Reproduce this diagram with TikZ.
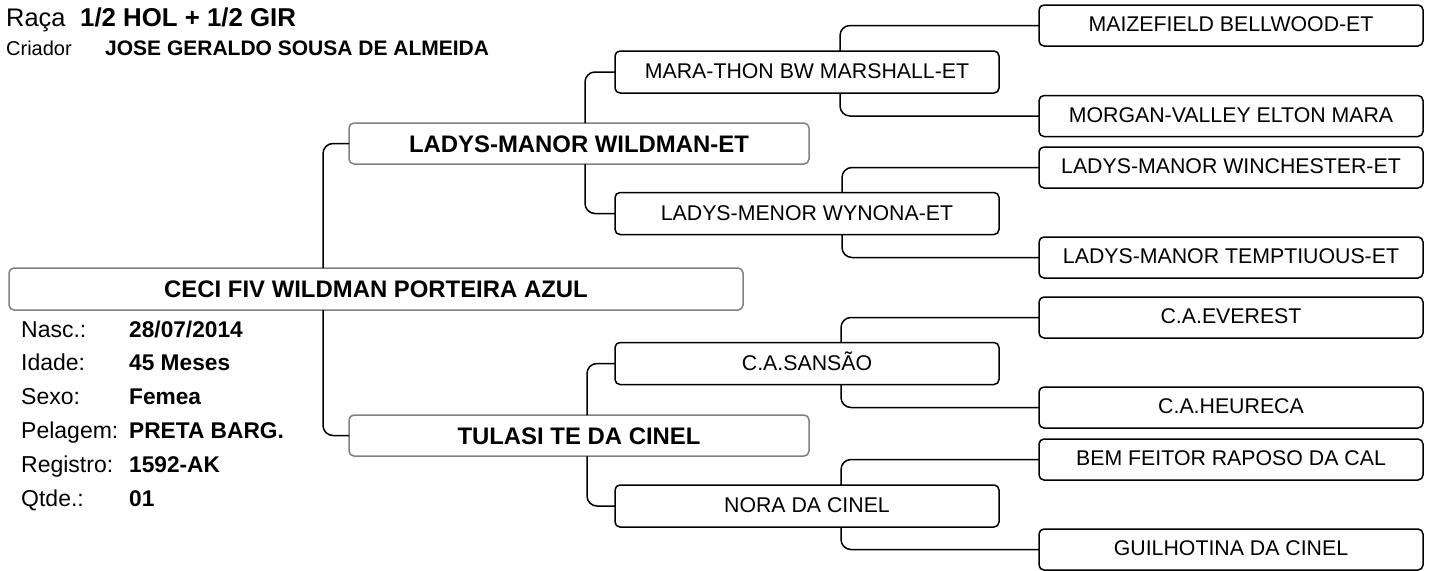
\documentclass[tikz,border=0pt]{standalone}
\usepackage{fontspec}
\setmainfont{Liberation Sans}
\usetikzlibrary{calc}
\definecolor{boxgray}{RGB}{128,128,128}
\tikzset{
  box/.style={draw=black, line width=1.5pt, rounded corners=5pt, minimum height=41pt,
    inner sep=0pt, outer sep=0pt, fill=white},
  gmain/.style={box, draw=boxgray, minimum width=734pt, minimum height=42pt,
    font=\bfseries\fontsize{23.9}{26}\selectfont, text height=17.2pt, text depth=0pt},
  gone/.style={box, draw=boxgray, minimum width=460pt,
    font=\bfseries\fontsize{23.9}{26}\selectfont, text height=17.2pt, text depth=0pt},
  gtwo/.style={box, minimum width=384pt, minimum height=42pt,
    font=\fontsize{21.3}{24}\selectfont, text height=15.4pt, text depth=2pt},
  gthree/.style={box, minimum width=384pt,
    font=\fontsize{21.3}{24}\selectfont, text height=15.4pt, text depth=3pt},
  conn/.style={line width=1.5pt, rounded corners=10pt},
  lbl/.style={anchor=base west, inner sep=0pt, font=\fontsize{23}{26}\selectfont},
  val/.style={anchor=base west, inner sep=0pt, font=\bfseries\fontsize{22.7}{26}\selectfont},
}
\begin{document}
\begin{tikzpicture}[x=1pt, y=-1pt]
\useasboundingbox (0,0) rectangle (1431,570);
% boxes
\node[gmain] (main) at (376,289) {CECI FIV WILDMAN PORTEIRA AZUL};
\node[gone] (ladys) at (579,143.5) {LADYS-MANOR WILDMAN-ET};
\node[gone] (tulasi) at (579,435.5) {TULASI TE DA CINEL};
\node[gtwo] (mara) at (807,72) {MARA-THON BW MARSHALL-ET};
\node[gtwo] (wynona) at (807,213.5) {LADYS-MENOR WYNONA-ET};
\node[gtwo] (sansao) at (807,363.5) {C.A.SANSÃO};
\node[gtwo] (nora) at (807,506) {NORA DA CINEL};
\node[gthree] (maize) at (1231,25.5) {MAIZEFIELD BELLWOOD-ET};
\node[gthree] (morgan) at (1231,116) {MORGAN-VALLEY ELTON MARA};
\node[gthree] (winch) at (1231,167.5) {LADYS-MANOR WINCHESTER-ET};
\node[gthree] (tempt) at (1231,257.5) {LADYS-MANOR TEMPTIUOUS-ET};
\node[gthree] (everest) at (1231,317.5) {C.A.EVEREST};
\node[gthree] (heureca) at (1231,407.5) {C.A.HEURECA};
\node[gthree] (bem) at (1231,459.5) {BEM FEITOR RAPOSO DA CAL};
\node[gthree] (guil) at (1231,549.5) {GUILHOTINA DA CINEL};
% connectors
\draw[conn] (main.north -| ladys.west) ++(-26,0) |- (ladys.west);
\draw[conn] (main.south -| tulasi.west) ++(-26,0) |- (tulasi.west);
\draw[conn] (ladys.north -| mara.west) ++(-30,0) |- (mara.west);
\draw[conn] (ladys.south -| wynona.west) ++(-30,0) |- (wynona.west);
\draw[conn] (tulasi.north -| sansao.west) ++(-28,0) |- (sansao.west);
\draw[conn] (tulasi.south -| nora.west) ++(-28,0) |- (nora.west);
\draw[conn] (mara.north -| maize.west) ++(-199,0) |- (maize.west);
\draw[conn] (mara.south -| morgan.west) ++(-199,0) |- (morgan.west);
\draw[conn] (wynona.north -| winch.west) ++(-197,0) |- (winch.west);
\draw[conn] (wynona.south -| tempt.west) ++(-197,0) |- (tempt.west);
\draw[conn] (sansao.north -| everest.west) ++(-198,0) |- (everest.west);
\draw[conn] (sansao.south -| heureca.west) ++(-198,0) |- (heureca.west);
\draw[conn] (nora.north -| bem.west) ++(-198,0) |- (bem.west);
\draw[conn] (nora.south -| guil.west) ++(-198,0) |- (guil.west);
% header
\node[anchor=base west, inner sep=0pt, font=\fontsize{25.4}{28}\selectfont] (raca) at (6,26.7) {Raça};
\node[anchor=base west, inner sep=0pt, font=\bfseries\fontsize{25.8}{28}\selectfont] (racav) at (80,26.7) {1/2 HOL + 1/2 GIR};
\node[anchor=base west, inner sep=0pt, font=\fontsize{20}{22}\selectfont] (criador) at (6,55) {Criador};
\node[anchor=base west, inner sep=0pt, font=\bfseries\fontsize{21}{23}\selectfont] (criadorv) at (105,55) {JOSE GERALDO SOUSA DE ALMEIDA};
% info
\node[lbl] (l1) at (21,337) {Nasc.:};
\node[val] (v1) at (129,337) {28/07/2014};
\node[lbl] (l2) at (21,370.5) {Idade:};
\node[val] (v2) at (129,370.5) {45 Meses};
\node[lbl] (l3) at (21,404) {Sexo:};
\node[val] (v3) at (129,404) {Femea};
\node[lbl] (l4) at (21,438) {Pelagem:};
\node[val] (v4) at (129,438) {PRETA BARG.};
\node[lbl] (l5) at (21,472) {Registro:};
\node[val] (v5) at (129,472) {1592-AK};
\node[lbl] (l6) at (21,506) {Qtde.:};
\node[val] (v6) at (129,506) {01};
\end{tikzpicture}
\end{document}
